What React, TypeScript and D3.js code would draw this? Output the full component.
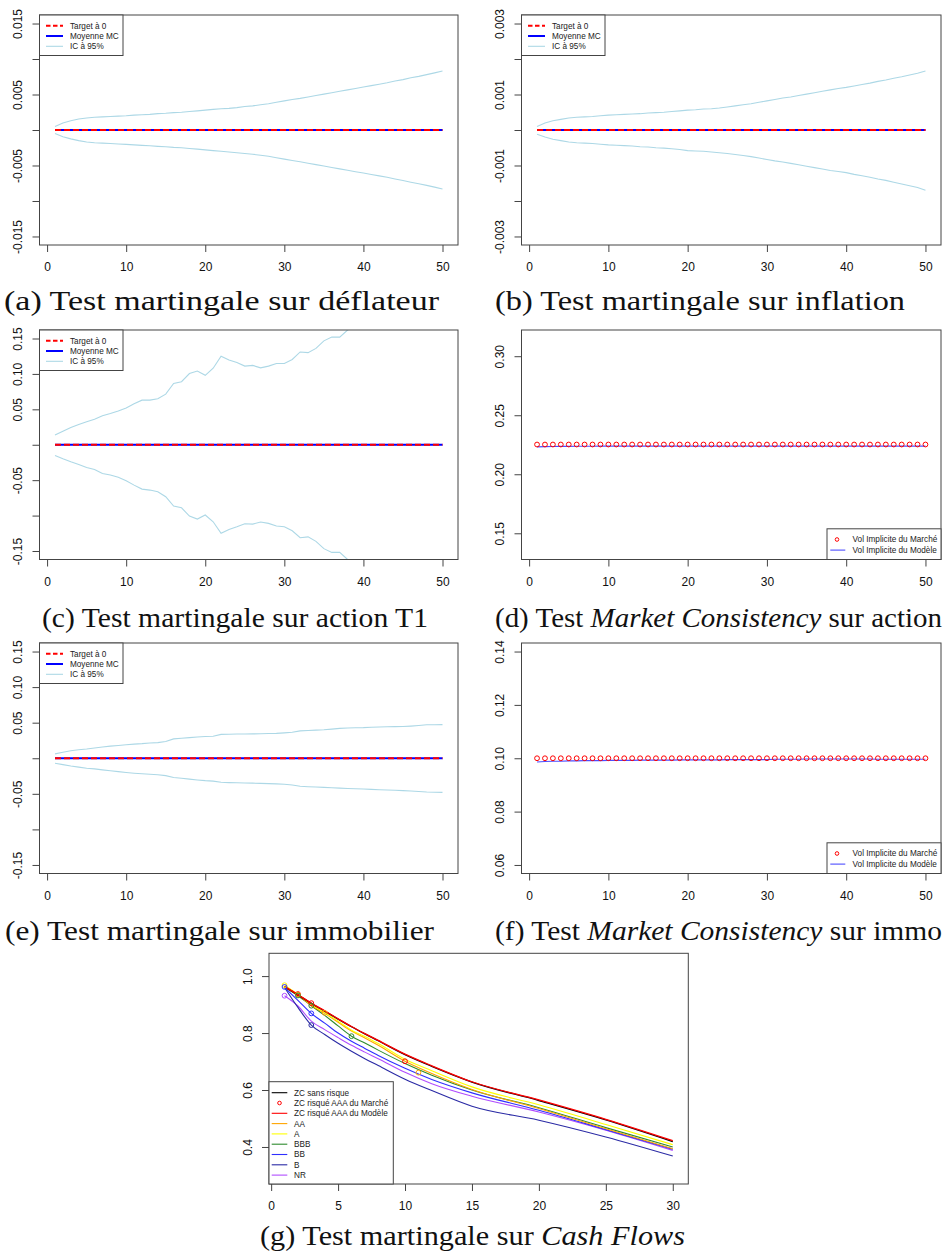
import { useEffect, useRef } from "react";
import * as d3 from "d3";

// horizon (years) for the martingale / vol panels
const years = d3.range(1, 51);
const xTicks = [0, 10, 20, 30, 40, 50];

// (a) deflateur
const deflUpper = [0.0005, 0.001, 0.0013, 0.00155, 0.0017, 0.0018, 0.00185, 0.0019, 0.00195, 0.002, 0.0021, 0.00215, 0.0022, 0.0023, 0.00235, 0.00245, 0.0025, 0.0026, 0.0027, 0.0028, 0.0029, 0.003, 0.00305, 0.00315, 0.0033, 0.0034, 0.00355, 0.0037, 0.0039, 0.0041, 0.0043, 0.00445, 0.00465, 0.00485, 0.00505, 0.00525, 0.00545, 0.00565, 0.00585, 0.00605, 0.00625, 0.00645, 0.00665, 0.0069, 0.0071, 0.00735, 0.00755, 0.0078, 0.00805, 0.0083];
const deflLower = [-0.0005, -0.00095, -0.00125, -0.0015, -0.00168, -0.0018, -0.00185, -0.0019, -0.00197, -0.00203, -0.0021, -0.00216, -0.00222, -0.0023, -0.00237, -0.00245, -0.0025, -0.0026, -0.0027, -0.0028, -0.0029, -0.003, -0.0031, -0.0032, -0.0033, -0.00342, -0.00355, -0.0037, -0.0039, -0.0041, -0.0043, -0.00448, -0.00468, -0.00488, -0.00508, -0.00528, -0.00548, -0.00568, -0.00588, -0.00606, -0.00626, -0.00646, -0.00666, -0.0069, -0.00712, -0.00735, -0.00757, -0.0078, -0.00805, -0.0083];
const deflMean = [0, 0, 0, 0, 0, 0, 0, 0, 0, 0, 0, 0, 0, 0, 0, 0, 0, 0, 0, 0, 0, 0, 0, 0, 0, 0, 0, 0, 0, 0, 0, 0, 0, 0, 0, 0, 0, 0, 0, 0, 0, 0, 0, 0, 0, 0, 0, 0, 0, 0];
const deflTicks = [-0.015, -0.01, -0.005, 0, 0.005, 0.01, 0.015];
const deflLabels = ["-0.015", "", "-0.005", "", "0.005", "", "0.015"];

// (b) inflation
const inflUpper = [0.0001, 0.0002, 0.00026, 0.0003, 0.00034, 0.00036, 0.00037, 0.00038, 0.0004, 0.00042, 0.00043, 0.00044, 0.00045, 0.00046, 0.00048, 0.00049, 0.0005, 0.00052, 0.00054, 0.00056, 0.00057, 0.00059, 0.0006, 0.00062, 0.00065, 0.00068, 0.00071, 0.00074, 0.00078, 0.00082, 0.00086, 0.0009, 0.00093, 0.00097, 0.00101, 0.00105, 0.00109, 0.00113, 0.00117, 0.0012, 0.00124, 0.00128, 0.00132, 0.00137, 0.00141, 0.00146, 0.0015, 0.00155, 0.0016, 0.00166];
const inflLower = [-0.00012, -0.0002, -0.00026, -0.0003, -0.00034, -0.00036, -0.00037, -0.00038, -0.0004, -0.00042, -0.00043, -0.00044, -0.00045, -0.00047, -0.00048, -0.0005, -0.00051, -0.00053, -0.00055, -0.00058, -0.00059, -0.0006, -0.00062, -0.00064, -0.00066, -0.00069, -0.00072, -0.00075, -0.00079, -0.00083, -0.00087, -0.0009, -0.00094, -0.00098, -0.00102, -0.00106, -0.0011, -0.00114, -0.00117, -0.0012, -0.00125, -0.00129, -0.00133, -0.00138, -0.00142, -0.00147, -0.00152, -0.00157, -0.00162, -0.0017];
const inflMean = [0, 0, 0, 0, 0, 0, 0, 0, 0, 0, 0, 0, 0, 0, 0, 0, 0, 0, 0, 0, 0, 0, 0, 0, 0, 0, 0, 0, 0, 0, 0, 0, 0, 0, 0, 0, 0, 0, 0, 0, 0, 0, 0, 0, 0, 0, 0, 0, 0, 0];
const inflTicks = [-0.003, -0.002, -0.001, 0, 0.001, 0.002, 0.003];
const inflLabels = ["-0.003", "", "-0.001", "", "0.001", "", "0.003"];

// (c) action T1
const actionUpper = [0.0136, 0.019, 0.0245, 0.0287, 0.0325, 0.036, 0.041, 0.044, 0.0475, 0.052, 0.058, 0.063, 0.063, 0.065, 0.0715, 0.0865, 0.089, 0.1005, 0.104, 0.098, 0.108, 0.125, 0.1195, 0.116, 0.111, 0.112, 0.1085, 0.111, 0.1148, 0.1148, 0.1204, 0.131, 0.13, 0.136, 0.1467, 0.152, 0.152, 0.162, 0.167, 0.171, 0.176, 0.179, 0.184, 0.188, 0.191, 0.196, 0.2, 0.203, 0.207, 0.211];
const actionLower = [-0.0151, -0.0198, -0.024, -0.0278, -0.032, -0.0348, -0.0405, -0.0428, -0.046, -0.0508, -0.057, -0.0626, -0.064, -0.0663, -0.0734, -0.0865, -0.089, -0.1007, -0.1049, -0.0992, -0.1087, -0.1251, -0.1195, -0.1157, -0.1115, -0.112, -0.1091, -0.111, -0.1148, -0.1157, -0.1214, -0.1312, -0.13, -0.1364, -0.1467, -0.152, -0.152, -0.162, -0.166, -0.17, -0.175, -0.179, -0.183, -0.187, -0.19, -0.195, -0.199, -0.202, -0.206, -0.21];
const actionMean = [0, 0, 0, 0, 0, 0, 0, 0, 0, 0, 0, 0, 0, 0, 0, 0, 0, 0, 0, 0, 0, 0, 0, 0, 0, 0, 0, 0, 0, 0, 0, 0, 0, 0, 0, 0, 0, 0, 0, 0, 0, 0, 0, 0, 0, 0, 0, 0, 0, 0];

// (e) immobilier
const immoUpper = [0.0061, 0.0085, 0.0105, 0.012, 0.013, 0.0145, 0.0158, 0.017, 0.018, 0.019, 0.0198, 0.0205, 0.0215, 0.022, 0.0235, 0.0272, 0.0282, 0.029, 0.0298, 0.0305, 0.031, 0.0335, 0.0338, 0.034, 0.034, 0.0342, 0.0345, 0.0348, 0.035, 0.0357, 0.0365, 0.0385, 0.039, 0.0395, 0.04, 0.041, 0.042, 0.0425, 0.0428, 0.043, 0.0435, 0.044, 0.0443, 0.0445, 0.0446, 0.0452, 0.046, 0.047, 0.047, 0.0472];
const immoLower = [-0.007, -0.009, -0.011, -0.0125, -0.014, -0.015, -0.0163, -0.0175, -0.0188, -0.02, -0.021, -0.0218, -0.0225, -0.0232, -0.0244, -0.027, -0.0282, -0.0293, -0.0305, -0.0315, -0.0322, -0.0338, -0.0342, -0.0345, -0.0347, -0.035, -0.0353, -0.0357, -0.036, -0.0366, -0.0375, -0.0394, -0.04, -0.0405, -0.041, -0.0415, -0.042, -0.0425, -0.0428, -0.0432, -0.0437, -0.0442, -0.0446, -0.045, -0.0455, -0.046, -0.0468, -0.0475, -0.0478, -0.048];
const immoMean = [0, 0, 0, 0, 0, 0, 0, 0, 0, 0, 0, 0, 0, 0, 0, 0, 0, 0, 0, 0, 0, 0, 0, 0, 0, 0, 0, 0, 0, 0, 0, 0, 0, 0, 0, 0, 0, 0, 0, 0, 0, 0, 0, 0, 0, 0, 0, 0, 0, 0];
const bigTicks = [-0.15, -0.1, -0.05, 0, 0.05, 0.1, 0.15];
const bigLabels = ["-0.15", "", "-0.05", "", "0.05", "0.10", "0.15"];

// (d) vol implicite action
const actionVolMarket = [0.2252, 0.2252, 0.2252, 0.2252, 0.2252, 0.2252, 0.2252, 0.2252, 0.2252, 0.2252, 0.2252, 0.2252, 0.2252, 0.2252, 0.2252, 0.2252, 0.2252, 0.2252, 0.2252, 0.2252, 0.2252, 0.2252, 0.2252, 0.2252, 0.2252, 0.2252, 0.2252, 0.2252, 0.2252, 0.2252, 0.2252, 0.2252, 0.2252, 0.2252, 0.2252, 0.2252, 0.2252, 0.2252, 0.2252, 0.2252, 0.2252, 0.2252, 0.2252, 0.2252, 0.2252, 0.2252, 0.2252, 0.2252, 0.2252, 0.2252];
const actionVolModel = [0.2232, 0.2234, 0.2235, 0.2236, 0.2236, 0.2237, 0.2237, 0.2237, 0.2238, 0.2238, 0.2238, 0.2238, 0.2238, 0.2238, 0.2238, 0.2238, 0.2238, 0.2238, 0.2238, 0.2238, 0.2238, 0.2238, 0.2238, 0.2238, 0.2238, 0.2238, 0.2238, 0.2238, 0.2238, 0.2238, 0.2238, 0.2238, 0.2238, 0.2238, 0.2238, 0.2238, 0.2238, 0.2238, 0.2238, 0.2238, 0.2238, 0.2238, 0.2238, 0.2238, 0.2238, 0.2238, 0.2238, 0.2238, 0.2238, 0.2238];
const actionVolTicks = [0.15, 0.2, 0.25, 0.3];
const actionVolLabels = ["0.15", "0.20", "0.25", "0.30"];

// (f) vol implicite immo
const immoVolMarket = [0.1, 0.1, 0.1, 0.1, 0.1, 0.1, 0.1, 0.1, 0.1, 0.1, 0.1, 0.1, 0.1, 0.1, 0.1, 0.1, 0.1, 0.1, 0.1, 0.1, 0.1, 0.1, 0.1, 0.1, 0.1, 0.1, 0.1, 0.1, 0.1, 0.1, 0.1, 0.1, 0.1, 0.1, 0.1, 0.1, 0.1, 0.1, 0.1, 0.1, 0.1, 0.1, 0.1, 0.1, 0.1, 0.1, 0.1, 0.1, 0.1, 0.1];
const immoVolModel = [0.0986, 0.0988, 0.0989, 0.0989, 0.099, 0.099, 0.0991, 0.0991, 0.0991, 0.0992, 0.0992, 0.0992, 0.0992, 0.0993, 0.0993, 0.0993, 0.0993, 0.0993, 0.0994, 0.0994, 0.0994, 0.0994, 0.0994, 0.0994, 0.0995, 0.0995, 0.0995, 0.0995, 0.0995, 0.0995, 0.0996, 0.0996, 0.0996, 0.0996, 0.0997, 0.0997, 0.0997, 0.0997, 0.0997, 0.0997, 0.0997, 0.0997, 0.0997, 0.0996, 0.0996, 0.0996, 0.0996, 0.0996, 0.0996, 0.0996];
const immoVolTicks = [0.06, 0.08, 0.1, 0.12, 0.14];
const immoVolLabels = ["0.06", "0.08", "0.10", "0.12", "0.14"];

// (g) cash flows : maturities and zero-coupon prices per rating
const cfMaturities = [1, 2, 3, 4, 5, 6, 7, 8, 10, 12, 15, 20, 25, 30];
const zcSansRisque = [0.962, 0.934, 0.904, 0.877, 0.849, 0.822, 0.797, 0.773, 0.724, 0.683, 0.628, 0.563, 0.495, 0.419];
const zcAAA = [0.963, 0.935, 0.905, 0.878, 0.85, 0.823, 0.798, 0.774, 0.726, 0.685, 0.629, 0.565, 0.497, 0.422];
const zcAA = [0.962, 0.933, 0.897, 0.869, 0.838, 0.807, 0.783, 0.757, 0.701, 0.658, 0.602, 0.535, 0.464, 0.394];
const zcA = [0.968, 0.936, 0.901, 0.872, 0.842, 0.81, 0.788, 0.763, 0.708, 0.668, 0.611, 0.548, 0.479, 0.408];
const zcBBB = [0.962, 0.931, 0.896, 0.862, 0.825, 0.789, 0.765, 0.74, 0.693, 0.652, 0.6, 0.538, 0.468, 0.4];
const zcBB = [0.96, 0.915, 0.869, 0.835, 0.8, 0.771, 0.746, 0.721, 0.676, 0.637, 0.59, 0.529, 0.461, 0.392];
const zcB = [0.96, 0.89, 0.828, 0.795, 0.764, 0.736, 0.71, 0.686, 0.638, 0.598, 0.543, 0.494, 0.435, 0.368];
const zcNR = [0.931, 0.895, 0.842, 0.812, 0.784, 0.757, 0.733, 0.71, 0.662, 0.622, 0.578, 0.523, 0.459, 0.388];
// market points [maturity, price]
const mktAAA = [[2, 0.937], [3, 0.905], [10, 0.701]];
const mktAA = [[2, 0.935], [4, 0.871], [11, 0.661]];
const mktA = [[1, 0.968]];
const mktBBB = [[2, 0.932], [3, 0.896], [6, 0.789]];
const mktBB = [[1, 0.962], [3, 0.869]];
const mktB = [[3, 0.828]];
const mktNR = [[1, 0.931]];
const cfXTicks = [0, 5, 10, 15, 20, 25, 30];
const cfYTicks = [0.4, 0.6, 0.8, 1.0];
const cfYLabels = ["0.4", "0.6", "0.8", "1.0"];

const AXIS = "#444";
const SANS = "'Liberation Sans', Arial, sans-serif";
const SERIF = "'Liberation Serif', 'DejaVu Serif', serif";

// R style axis expansion (4%)
function pad([lo, hi]) {
  const e = (hi - lo) * 0.04;
  return [lo - e, hi + e];
}

function makeFrame(svg, id, box, xDomain, yDomain) {
  const x = d3.scaleLinear().domain(xDomain).range([box.left, box.right]);
  const y = d3.scaleLinear().domain(yDomain).range([box.bottom, box.top]);
  svg.append("defs").append("clipPath").attr("id", id)
    .append("rect")
    .attr("x", box.left).attr("y", box.top)
    .attr("width", box.right - box.left).attr("height", box.bottom - box.top);
  const g = svg.append("g").attr("clip-path", `url(#${id})`);
  return { x, y, g };
}

function drawAxes(svg, box, x, y, xt, yt, yl) {
  const ax = svg.append("g")
    .attr("transform", `translate(0,${box.bottom})`)
    .call(d3.axisBottom(x).tickValues(xt).tickSize(7).tickSizeOuter(0).tickPadding(10.5).tickFormat(d3.format("d")));
  ax.select(".domain").remove();
  ax.selectAll("line").attr("stroke", AXIS);
  ax.attr("font-size", 12).attr("font-family", SANS);
  ax.selectAll("text").attr("fill", "#111");

  const ay = svg.append("g")
    .attr("transform", `translate(${box.left},0)`)
    .call(d3.axisLeft(y).tickValues(yt).tickSize(7).tickSizeOuter(0).tickFormat((d, i) => yl[i]));
  ay.select(".domain").remove();
  ay.selectAll("line").attr("stroke", AXIS);
  ay.attr("font-size", 12).attr("font-family", SANS).attr("text-anchor", "middle");
  ay.selectAll("text")
    .attr("x", 0).attr("y", 0).attr("dy", null)
    .attr("fill", "#111")
    .attr("transform", "translate(-17.3,0) rotate(-90)");

  svg.append("rect")
    .attr("x", box.left).attr("y", box.top)
    .attr("width", box.right - box.left).attr("height", box.bottom - box.top)
    .attr("fill", "none").attr("stroke", AXIS).attr("stroke-width", 1);
}

function drawMartingale(svg, id, box, ylim, ticks, labels, upper, lower, mean) {
  const { x, y, g } = makeFrame(svg, id, box, pad([1, 50]), pad(ylim));
  const line = d3.line().x((d, i) => x(years[i])).y(d => y(d));
  g.append("path").attr("d", line(upper)).attr("fill", "none").attr("stroke", "#ADD8E6").attr("stroke-width", 1.1);
  g.append("path").attr("d", line(lower)).attr("fill", "none").attr("stroke", "#ADD8E6").attr("stroke-width", 1.1);
  g.append("path").attr("d", line(mean)).attr("fill", "none").attr("stroke", "#0000FF").attr("stroke-width", 2);
  g.append("path").attr("d", line(years.map(() => 0))).attr("fill", "none")
    .attr("stroke", "#FF0000").attr("stroke-width", 2).attr("stroke-dasharray", "6,3");
  drawAxes(svg, box, x, y, xTicks, ticks, labels);

  // legend top-left
  const lg = svg.append("g").attr("transform", `translate(${box.left},${box.top})`);
  lg.append("rect").attr("width", 83.5).attr("height", 40.5)
    .attr("fill", "white").attr("stroke", AXIS);
  const items = [
    { label: "Target à 0", color: "#FF0000", w: 2, dash: "4.5,2.5" },
    { label: "Moyenne MC", color: "#0000FF", w: 2, dash: null },
    { label: "IC à 95%", color: "#ADD8E6", w: 1.1, dash: null },
  ];
  items.forEach((it, i) => {
    const cy = 10.7 + i * 10.3;
    lg.append("line").attr("x1", 6.5).attr("x2", 23.5).attr("y1", cy).attr("y2", cy)
      .attr("stroke", it.color).attr("stroke-width", it.w).attr("stroke-dasharray", it.dash);
    lg.append("text").attr("x", 30.5).attr("y", cy + 3).text(it.label)
      .attr("font-family", SANS).attr("font-size", 8.2).attr("fill", "#222");
  });
}

function drawVol(svg, id, box, ylim, ticks, labels, market, model) {
  const { x, y, g } = makeFrame(svg, id, box, pad([1, 50]), pad(ylim));
  const line = d3.line().x((d, i) => x(years[i])).y(d => y(d));
  g.append("path").attr("d", line(model)).attr("fill", "none").attr("stroke", "#4D4DFF").attr("stroke-width", 1.1);
  g.selectAll(".mkt").data(market).join("circle")
    .attr("cx", (d, i) => x(years[i])).attr("cy", d => y(d)).attr("r", 2.4)
    .attr("fill", "none").attr("stroke", "#FF0000").attr("stroke-width", 1);
  drawAxes(svg, box, x, y, xTicks, ticks, labels);

  const lg = svg.append("g").attr("transform", `translate(${box.right - 114},${box.bottom - 30.7})`);
  lg.append("rect").attr("width", 114).attr("height", 30.7).attr("fill", "white").attr("stroke", AXIS);
  lg.append("circle").attr("cx", 10).attr("cy", 10.7).attr("r", 1.8)
    .attr("fill", "none").attr("stroke", "#FF0000").attr("stroke-width", 1);
  lg.append("line").attr("x1", 3.3).attr("x2", 18.3).attr("y1", 21.3).attr("y2", 21.3)
    .attr("stroke", "#4D4DFF").attr("stroke-width", 1.1);
  [["Vol Implicite du Marché", 10.7], ["Vol Implicite du Modèle", 21.3]].forEach(([t, cy]) => {
    lg.append("text").attr("x", 25.6).attr("y", cy + 3).text(t)
      .attr("font-family", SANS).attr("font-size", 8.2).attr("fill", "#222");
  });
}

function drawCashFlows(svg, box) {
  const { x, y, g } = makeFrame(svg, "clip-g", box, pad([1, 30]), pad([0.3, 1.05]));
  const series = [
    { label: "ZC sans risque", values: zcSansRisque, color: "#000000", mkt: [] },
    { label: "ZC risqué AAA du Modèle", values: zcAAA, color: "#FF0000", mkt: mktAAA },
    { label: "AA", values: zcAA, color: "#FFA500", mkt: mktAA },
    { label: "A", values: zcA, color: "#FFFF00", mkt: mktA },
    { label: "BBB", values: zcBBB, color: "#2E8B2E", mkt: mktBBB },
    { label: "BB", values: zcBB, color: "#2F2FFF", mkt: mktBB },
    { label: "B", values: zcB, color: "#2A2AA5", mkt: mktB },
    { label: "NR", values: zcNR, color: "#B04CFF", mkt: mktNR },
  ];
  const line = d3.line().curve(d3.curveMonotoneX).x((d, i) => x(cfMaturities[i])).y(d => y(d));
  const drawOrder = [7, 6, 5, 4, 2, 3, 0, 1];
  drawOrder.forEach(k => {
    const s = series[k];
    g.append("path").attr("d", line(s.values)).attr("fill", "none")
      .attr("stroke", s.color).attr("stroke-width", k < 2 ? 1.3 : 1.1);
  });
  series.forEach(s => {
    g.selectAll(null).data(s.mkt).join("circle")
      .attr("cx", d => x(d[0])).attr("cy", d => y(d[1])).attr("r", 2.4)
      .attr("fill", "none").attr("stroke", s.color).attr("stroke-width", 1);
  });
  drawAxes(svg, box, x, y, cfXTicks, cfYTicks, cfYLabels);

  const legendItems = [
    { label: "ZC sans risque", color: "#000000", kind: "line" },
    { label: "ZC risqué AAA du Marché", color: "#FF0000", kind: "point" },
    { label: "ZC risqué AAA du Modèle", color: "#FF0000", kind: "line" },
    { label: "AA", color: "#FFA500", kind: "line" },
    { label: "A", color: "#FFFF00", kind: "line" },
    { label: "BBB", color: "#2E8B2E", kind: "line" },
    { label: "BB", color: "#2F2FFF", kind: "line" },
    { label: "B", color: "#2A2AA5", kind: "line" },
    { label: "NR", color: "#B04CFF", kind: "line" },
  ];
  const lg = svg.append("g").attr("transform", `translate(${box.left},${box.bottom - 102.3})`);
  lg.append("rect").attr("width", 124.3).attr("height", 102.3).attr("fill", "white").attr("stroke", AXIS);
  legendItems.forEach((it, i) => {
    const cy = 11 + i * 10.3;
    if (it.kind === "line") {
      lg.append("line").attr("x1", 2.7).attr("x2", 18.3).attr("y1", cy).attr("y2", cy)
        .attr("stroke", it.color).attr("stroke-width", 1.1);
    } else {
      lg.append("circle").attr("cx", 10.5).attr("cy", cy).attr("r", 1.8)
        .attr("fill", "none").attr("stroke", it.color).attr("stroke-width", 1);
    }
    lg.append("text").attr("x", 25).attr("y", cy + 3).text(it.label)
      .attr("font-family", SANS).attr("font-size", 8.2).attr("fill", "#222");
  });
}

const captions = [
  { parts: [["(a) Test martingale sur déflateur", false]], x0: 4, x1: 439, base: 310 },
  { parts: [["(b) Test martingale sur inflation", false]], x0: 495, x1: 905, base: 310 },
  { parts: [["(c) Test martingale sur action T1", false]], x0: 42, x1: 428, base: 627 },
  { parts: [["(d) Test ", false], ["Market Consistency", true], [" sur action", false]], x0: 495, x1: 942, base: 627 },
  { parts: [["(e) Test martingale sur immobilier", false]], x0: 5, x1: 434, base: 940 },
  { parts: [["(f) Test ", false], ["Market Consistency", true], [" sur immo", false]], x0: 495, x1: 942, base: 940 },
  { parts: [["(g) Test martingale sur ", false], ["Cash Flows", true]], x0: 260, x1: 685, base: 1245 },
];

export default function App() {
  const svgRef = useRef(null);

  useEffect(() => {
    const svg = d3.select(svgRef.current);
    svg.selectAll("*").remove();
    svg.append("rect").attr("width", 944).attr("height", 1257).attr("fill", "white");

    const col1 = { left: 39.5, right: 458 };
    const col2 = { left: 521.5, right: 941 };
    const rows = [{ top: 15, bottom: 245 }, { top: 330, bottom: 559.5 }, { top: 643, bottom: 873.5 }];

    drawMartingale(svg, "clip-a", { ...col1, ...rows[0] }, [-0.015, 0.015], deflTicks, deflLabels, deflUpper, deflLower, deflMean);
    drawMartingale(svg, "clip-b", { ...col2, ...rows[0] }, [-0.003, 0.003], inflTicks, inflLabels, inflUpper, inflLower, inflMean);
    drawMartingale(svg, "clip-c", { ...col1, ...rows[1] }, [-0.15, 0.15], bigTicks, bigLabels, actionUpper, actionLower, actionMean);
    drawVol(svg, "clip-d", { ...col2, ...rows[1] }, [0.135, 0.315], actionVolTicks, actionVolLabels, actionVolMarket, actionVolModel);
    drawMartingale(svg, "clip-e", { ...col1, ...rows[2] }, [-0.15, 0.15], bigTicks, bigLabels, immoUpper, immoLower, immoMean);
    drawVol(svg, "clip-f", { ...col2, ...rows[2] }, [0.06, 0.14], immoVolTicks, immoVolLabels, immoVolMarket, immoVolModel);
    drawCashFlows(svg, { left: 269, right: 688.3, top: 953.3, bottom: 1184 });

    captions.forEach(c => {
      const t = svg.append("text")
        .attr("x", c.x0).attr("y", c.base)
        .attr("font-family", SERIF).attr("font-size", 28).attr("fill", "#111")
        .attr("textLength", c.x1 - c.x0).attr("lengthAdjust", "spacingAndGlyphs");
      c.parts.forEach(([txt, it]) => {
        t.append("tspan").text(txt).attr("font-style", it ? "italic" : "normal");
      });
    });
  }, []);

  return (
    <svg ref={svgRef} width={944} height={1257}
      style={{ position: "absolute", left: 0, top: 0, display: "block" }} />
  );
}
